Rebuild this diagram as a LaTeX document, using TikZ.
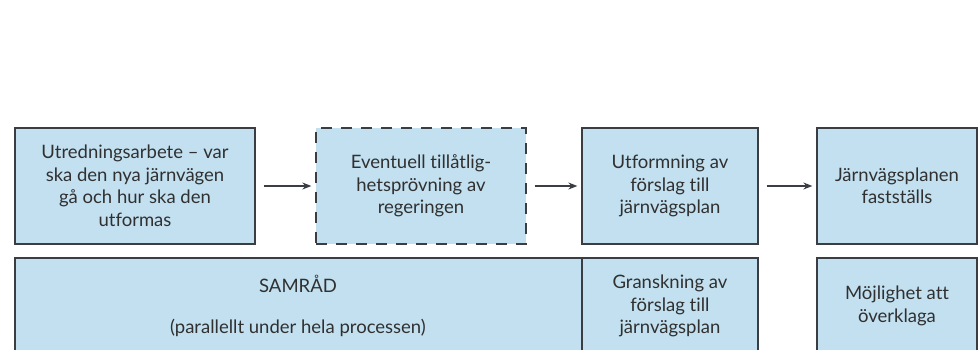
\documentclass[tikz,border=0pt]{standalone}
\usepackage{fontspec}
\setmainfont{Lato}[Ligatures=NoCommon]
\usetikzlibrary{arrows.meta}
\definecolor{boxfill}{HTML}{C2E0F0}
\definecolor{boxline}{HTML}{3A3E42}
\definecolor{txt}{HTML}{303030}
\tikzset{
  lbl/.style={align=center, inner sep=0pt, font=\fontsize{18.5}{22.5}\selectfont, text=txt},
  stepbox/.style={lbl, draw=boxline, fill=boxfill, line width=1.3pt},
  dashbox/.style={stepbox, dash pattern=on 11pt off 9pt},
  flow/.style={draw=boxline, line width=1.3pt, -{Stealth[length=9pt,width=7pt]}, shorten >=4pt, shorten <=8pt}
}
\begin{document}
\begin{tikzpicture}[x=1pt,y=-1pt]
\useasboundingbox (0,0) rectangle (978,350);
\clip (0,0) rectangle (978,350);
% top row
\node[stepbox, minimum width=240pt, minimum height=116pt] (b1) at (135,186) {Utredningsarbete – var\\ska den nya järnvägen\\gå och hur ska den\\utformas};
\node[dashbox, minimum width=210pt, minimum height=116pt] (b2) at (421,186) {Eventuell tillåtlig-\\hetsprövning av\\regeringen};
\node[stepbox, minimum width=176pt, minimum height=116pt] (b3) at (670,186) {Utformning av\\förslag till\\järnvägsplan};
\node[stepbox, minimum width=160pt, minimum height=116pt] (b4) at (897,186) {Järnvägsplanen\\fastställs};
% bottom row
\node[stepbox, minimum width=567pt, minimum height=110pt] (s1) at (298.5,313) {};
\node[stepbox, minimum width=176pt, minimum height=110pt] (s2) at (670,313) {};
\node[stepbox, minimum width=160pt, minimum height=110pt] (s3) at (897,313) {};
\node[lbl] (t1) at (298,284) {SAMRÅD};
\node[lbl] (t2) at (298,328) {(parallellt under hela processen)};
\node[lbl] (t3) at (670,306) {Granskning av\\förslag till\\järnvägsplan};
\node[lbl] (t4) at (897,306) {Möjlighet att\\överklaga};
% arrows
\draw[flow] (b1.east) -- (b2.west);
\draw[flow] (b2.east) -- (b3.west);
\draw[flow] (b3.east) -- (b4.west);
\end{tikzpicture}
\end{document}
